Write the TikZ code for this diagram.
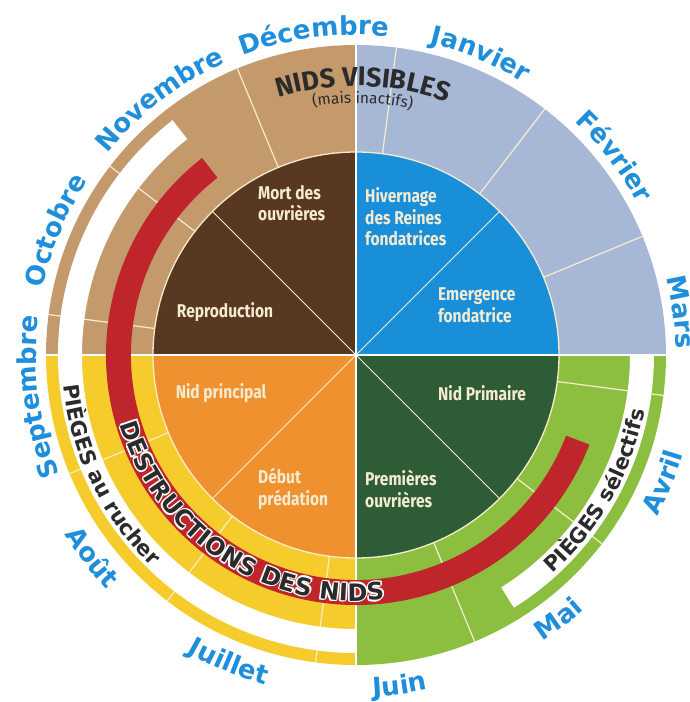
\documentclass[tikz,border=0pt]{standalone}
\usepackage{fontspec}
\setmainfont{Fira Sans}
\newfontfamily\condfont[FakeStretch=0.84]{Fira Sans}
\newfontfamily\wideface{DejaVu Sans}
\usetikzlibrary{decorations.text}
\newcommand{\monthfont}{\wideface\bfseries\fontsize{26}{30}\selectfont}
\newcommand{\trapfont}{\wideface\bfseries\fontsize{21}{24}\selectfont}
\newcommand{\destfont}{\wideface\bfseries\fontsize{24}{28}\selectfont}
\newcommand{\visfont}{\bfseries\fontsize{27}{30}\selectfont}
\newcommand{\smallfont}{\fontsize{15.5}{18}\selectfont}

\begin{document}
\begin{tikzpicture}[x=1pt,y=1pt,
  phase/.style={font=\condfont\bfseries\fontsize{18.5}{21.5}\selectfont,text=ctx,inner sep=0pt},
  monthline/.style={draw=cdiv,line width=1.2pt},
  diagline/.style={draw=cdiv,line width=0.9pt},
  quadline/.style={draw=white,line width=2.4pt},
  month/.style={decorate,decoration={text along path,text align=center,text color=cmonth,text={|\monthfont|#1}}},
  trap/.style={decorate,decoration={text along path,text align=center,text color=cdark,text={|\trapfont|#1}}},
  dest/.style={decorate,decoration={text along path,text align=center,text color=#1,text={|\destfont|DESTRUCTIONS DES NIDS}}}]
%
\useasboundingbox (-356,-347) rectangle (333,355);
%
\definecolor{cr0}{rgb}{0.655,0.722,0.839}
\definecolor{cc0}{rgb}{0.10,0.56,0.85}
\definecolor{cr1}{rgb}{0.77,0.60,0.42}
\definecolor{cc1}{rgb}{0.35,0.22,0.13}
\definecolor{cr2}{rgb}{0.96,0.80,0.17}
\definecolor{cc2}{rgb}{0.94,0.57,0.19}
\definecolor{cr3}{rgb}{0.55,0.75,0.25}
\definecolor{cc3}{rgb}{0.18,0.36,0.21}
\definecolor{cred}{rgb}{0.75,0.15,0.17}
\definecolor{cmonth}{rgb}{0.12,0.56,0.86}
\definecolor{ctx}{rgb}{0.96,0.92,0.82}
\definecolor{cdiv}{rgb}{0.97,0.93,0.80}
\definecolor{cdark}{rgb}{0.17,0.17,0.17}
%
\fill[cr0] (0:310) arc[start angle=0,end angle=90,radius=310] -- (90:203) arc[start angle=90,end angle=0,radius=203] -- cycle;
\fill[cr1] (90:310) arc[start angle=90,end angle=180,radius=310] -- (180:203) arc[start angle=180,end angle=90,radius=203] -- cycle;
\fill[cr2] (180:310) arc[start angle=180,end angle=270,radius=310] -- (270:203) arc[start angle=270,end angle=180,radius=203] -- cycle;
\fill[cr3] (270:310) arc[start angle=270,end angle=360,radius=310] -- (0:203) arc[start angle=360,end angle=270,radius=203] -- cycle;
\fill[cc0] (0,0) -- (0:203) arc[start angle=0,end angle=90,radius=203] -- cycle;
\fill[cc1] (0,0) -- (90:203) arc[start angle=90,end angle=180,radius=203] -- cycle;
\fill[cc2] (0,0) -- (180:203) arc[start angle=180,end angle=270,radius=203] -- cycle;
\fill[cc3] (0,0) -- (270:203) arc[start angle=270,end angle=360,radius=203] -- cycle;
%
\foreach \a in {22.5,52.5,...,352.5}
  \draw[monthline] (\a:203) -- (\a:310);
\foreach \a in {45,135,225,315}
  \draw[diagline] (0,0) -- (\a:203);
\draw[cdiv,line width=1.3pt] (0,0) circle[radius=203];
\foreach \a in {0,90,180,270}
  \draw[quadline] (0,0) -- (\a:310);
%
\fill[white] (128:298) arc[start angle=128,end angle=270,radius=298] -- (270:274) arc[start angle=270,end angle=128,radius=274] -- cycle;
\fill[white] (-58:298) arc[start angle=-58,end angle=0,radius=298] -- (0:274) arc[start angle=0,end angle=-58,radius=274] -- cycle;
\fill[cred] (128:250) arc[start angle=128,end angle=339,radius=250] -- (339:225) arc[start angle=339,end angle=128,radius=225] -- cycle;
%
\node[phase,anchor=west,align=left] (mort) at (-98,152) {Mort des\\ouvrières};
\node[phase] (repro) at (-131,43) {Reproduction};
\node[phase,anchor=west,align=left] (hivern) at (9,138) {Hivernage\\des Reines\\fondatrices};
\node[phase,anchor=west,align=left] (emerg) at (82,50) {Emergence\\fondatrice};
\node[phase] (nidprim) at (126,-38) {Nid Primaire};
\node[phase,anchor=west,align=left] (premouv) at (9,-134) {Premières\\ouvrières};
\node[phase] (nidprinc) at (-135,-38) {Nid principal};
\node[phase,anchor=west,align=left] (debut) at (-98,-134) {Début\\prédation};
%
\path[decorate,decoration={text along path,text align=center,text color=cdark,text={|\visfont|NIDS VISIBLES}}] (128.5:269) arc[start angle=128.5,end angle=48.5,radius=269];
\path[decorate,decoration={text along path,text align=center,text color=cdark,text={|\smallfont|(mais inactifs)}}] (128.5:252) arc[start angle=128.5,end angle=48.5,radius=252];
%
\path[trap=PIÈGES au rucher] (166:294) arc[start angle=166,end angle=246,radius=294];
\path[trap=PIÈGES sélectifs] (-70:294) arc[start angle=-70,end angle=11,radius=294];
%
\foreach \rr/\aa in {247.3/166.5,244.7/166.5,246/166.8,246/166.2,247/166.75,247/166.25,245/166.75,245/166.25}
  \path[dest=white] (\aa:\rr) arc[start angle=\aa,delta angle=140,radius=\rr];
\path[dest=cdark] (166.5:246) arc[start angle=166.5,delta angle=140,radius=246];
%
\path[month=Septembre] (217.5:320) arc[start angle=217.5,end angle=157.5,radius=320];
\path[month=Octobre] (187.5:320) arc[start angle=187.5,end angle=127.5,radius=320];
\path[month=Novembre] (157.5:320) arc[start angle=157.5,end angle=97.5,radius=320];
\path[month=Décembre] (127.5:320) arc[start angle=127.5,end angle=67.5,radius=320];
\path[month=Janvier] (97.5:320) arc[start angle=97.5,end angle=37.5,radius=320];
\path[month=Février] (67.5:320) arc[start angle=67.5,end angle=7.5,radius=320];
\path[month=Mars] (37.5:320) arc[start angle=37.5,end angle=-22.5,radius=320];
\path[month=Avril] (-52.5:342) arc[start angle=-52.5,end angle=7.5,radius=342];
\path[month=Mai] (-82.5:342) arc[start angle=-82.5,end angle=-22.5,radius=342];
\path[month=Juin] (-112.5:342) arc[start angle=-112.5,end angle=-52.5,radius=342];
\path[month=Juillet] (-142.5:342) arc[start angle=-142.5,end angle=-82.5,radius=342];
\path[month=Août] (-172.5:342) arc[start angle=-172.5,end angle=-112.5,radius=342];
%
\end{tikzpicture}
\end{document}
